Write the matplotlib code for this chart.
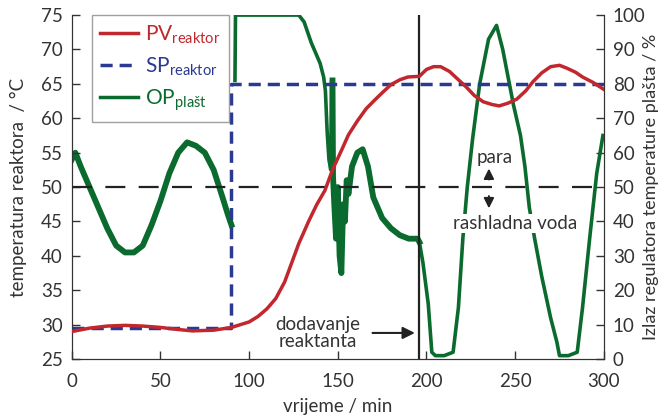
import numpy as np
import matplotlib.pyplot as plt
from matplotlib.lines import Line2D

plt.rcParams['font.family'] = ['Lato', 'DejaVu Sans']
plt.rcParams['mathtext.fontset'] = 'custom'
plt.rcParams['mathtext.rm'] = 'Lato'

# Boje
crvena = '#c1272d'
plava = '#2b3990'
zelena = '#0b6b2e'
siva = '#333333'

# PV reaktor (°C)
t_pv = [0, 10, 20, 30, 40, 50, 60, 68, 80, 90, 100, 105, 110, 115, 120, 124, 128,
        133.5, 138, 142.7, 147, 152, 156, 161, 166, 171, 175, 180, 185, 189.5, 196,
        200, 204, 208, 213, 218, 222.6, 227, 232, 237, 241, 246, 251, 256, 260, 265,
        270, 275, 279, 284, 288, 294, 300]
pv = [29.0, 29.5, 29.8, 29.9, 29.8, 29.6, 29.3, 29.1, 29.2, 29.6, 30.4, 31.2, 32.3,
      33.8, 36.2, 39.0, 41.8, 45.0, 47.4, 49.5, 52.5, 55.3, 57.6, 59.6, 61.4, 62.7,
      63.7, 64.9, 65.6, 66.0, 66.1, 67.1, 67.5, 67.5, 66.8, 65.6, 64.5, 63.3, 62.4,
      62.0, 61.8, 62.2, 62.8, 64.0, 65.3, 66.6, 67.5, 67.7, 67.3, 66.7, 66.0, 65.2, 64.2]

# SP reaktor (°C)
t_sp = [0, 90, 90, 300]
sp = [29.5, 29.5, 65, 65]

# OP plašt (%)
t_op = [0, 2, 5, 10, 15, 20, 25, 30, 35, 40, 45, 50, 55, 60, 65, 70, 75, 80, 85, 88, 90,
        np.nan,
        92, 92.3, 100, 120, 128, 131, 135, 140, 142, 143, 144, 145, 146, 146.5, 147,
        147.3, 148, 149, 150, 151, 152, 153, 154, 155, 156, 158, 161, 164, 167, 170,
        175, 180, 185, 190, 195, 196, 198, 201, 203, 205, 210, 215, 218, 220.5, 223,
        226, 230, 235, 239.5, 243, 246, 249, 253, 255.5, 258, 261, 265, 270, 273.5,
        275, 280, 285, 288, 292, 296, 299.5]
op = [58, 60, 56, 50, 44, 38, 33, 31, 31, 33, 39, 46, 54, 60, 63, 62, 60, 55, 47, 42, 39,
      np.nan,
      81, 100, 100, 100, 100, 98, 92, 86, 82, 78, 66, 58, 55, 81, 81,
      53, 45, 35, 50, 30, 25, 45, 40, 52, 48, 56, 60, 61, 56, 47,
      41, 38, 36, 35, 35, 34, 28, 16, 2, 1, 1, 2, 15, 35, 50,
      64, 80, 93, 97, 90, 82, 74, 65, 56, 44, 35, 24, 12, 5,
      1, 1, 2, 15, 35, 54, 65]

t_dodavanje = 196

fig = plt.figure(figsize=(6.65, 4.19), dpi=100)
ax = fig.add_axes([0.108, 0.143, 0.800, 0.821])
ax2 = ax.twinx()

# zelena - šumoviti dijelovi deblje
t_op_arr = np.array(t_op)
op_arr = np.array(op)
ax2.plot(t_op_arr, op_arr, color=zelena, lw=2.6, zorder=2)
sum_maska = (t_op_arr <= 90) | ((t_op_arr >= 147) & (t_op_arr <= 196))
ax2.plot(np.where(sum_maska, t_op_arr, np.nan), op_arr, color=zelena, lw=4.2, zorder=2)

ax.plot(t_pv, pv, color=crvena, lw=2.5, zorder=4)
ax.plot(t_sp, sp, color=plava, lw=2.5, dashes=(3.5, 2), zorder=3)
ax.axhline(50, color='#222222', lw=1.6, dashes=(9, 6), zorder=3)
ax.axvline(t_dodavanje, color='#222222', lw=1.6, zorder=3)

# ax na vrhu da crvena bude preko zelene
ax.set_zorder(ax2.get_zorder() + 1)
ax.patch.set_visible(False)

ax.set_xlim(0, 300)
ax.set_ylim(25, 75)
ax2.set_ylim(0, 100)
ax.set_xticks([0, 50, 100, 150, 200, 250, 300])
ax.set_yticks(range(25, 80, 5))
ax2.set_yticks(range(0, 110, 10))

for a in (ax, ax2):
    a.tick_params(direction='in', length=6, width=1, colors=siva, labelsize=13.5, pad=6.5)
    for s in a.spines.values():
        s.set_color(siva)
ax.tick_params(axis='x', pad=10)
ax.spines['top'].set_visible(False)
ax2.spines['top'].set_visible(False)

ax.set_xlabel('vrijeme / min', fontsize=13.5, color=siva, labelpad=6)
ax.set_ylabel('temperatura reaktora  / °C', fontsize=13.5, color=siva)
ax.yaxis.set_label_coords(-0.085, 0.5)
ax2.set_ylabel('Izlaz regulatora temperature plašta / %', fontsize=13, color=siva)
ax2.yaxis.set_label_coords(1.074, 0.5)

# Tekstovi i strelice
kutija = dict(facecolor='white', edgecolor='none', pad=1)
ax.text(238.5, 54.3, 'para', ha='center', va='center', fontsize=13.5, color=siva, bbox=kutija, zorder=6)
ax.text(250, 44.7, 'rashladna voda', ha='center', va='center', fontsize=13.5, color=siva, bbox=kutija, zorder=6)
ax.annotate('', xy=(235.2, 53.1), xytext=(235.2, 50.7),
            arrowprops=dict(arrowstyle='-|>', color='#222222', lw=1.4, mutation_scale=15), zorder=6)
ax.annotate('', xy=(235.2, 46.5), xytext=(235.2, 49.1),
            arrowprops=dict(arrowstyle='-|>', color='#222222', lw=1.4, mutation_scale=15), zorder=6)
ax.text(138.5, 28.8, 'dodavanje\nreaktanta', ha='center', va='center', fontsize=13.5,
        color=siva, linespacing=0.95, zorder=6)
ax.annotate('', xy=(195, 28.8), xytext=(168, 28.8),
            arrowprops=dict(arrowstyle='-|>', color='#222222', lw=1.5, mutation_scale=18), zorder=6)

# Legenda
rucke = [Line2D([], [], color=crvena, lw=2.5),
         Line2D([], [], color=plava, lw=2.5, dashes=(3.5, 2)),
         Line2D([], [], color=zelena, lw=2.5)]
natpisi = [r'PV$_{\mathrm{reaktor}}$', r'SP$_{\mathrm{reaktor}}$', r'OP$_{\mathrm{plašt}}$']
leg = ax.legend(rucke, natpisi, loc='upper left', bbox_to_anchor=(0.038, 1.0),
                fontsize=15, frameon=True, fancybox=False, handlelength=1.8,
                handletextpad=0.35, labelspacing=0.45, borderpad=0.4, borderaxespad=0.0)
leg.get_frame().set_edgecolor('#888888')
leg.get_frame().set_linewidth(1)
for tekst, boja in zip(leg.get_texts(), [crvena, plava, zelena]):
    tekst.set_color(boja)

fig.savefig('out.png', dpi=100)
